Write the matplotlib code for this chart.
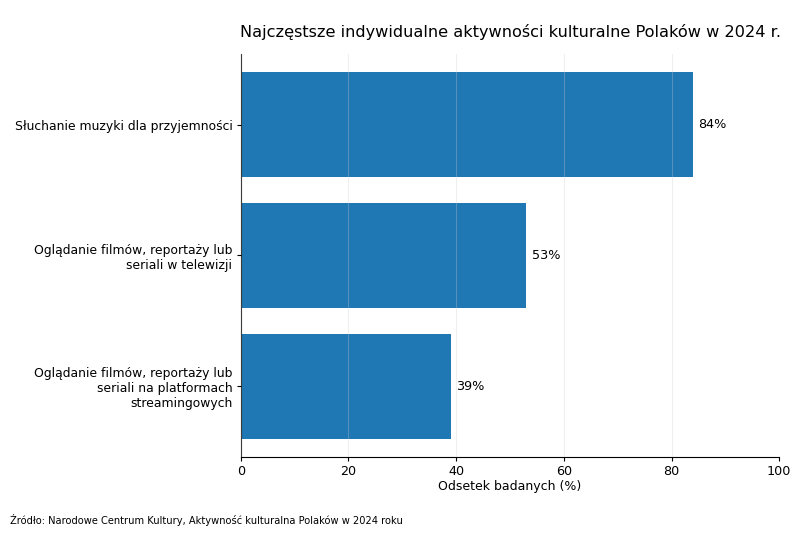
import matplotlib.pyplot as plt

categories = [
    "Słuchanie muzyki dla przyjemności",
    "Oglądanie filmów, reportaży lub\nseriali w telewizji",
    "Oglądanie filmów, reportaży lub\nseriali na platformach\nstreamingowych",
]
values = [84, 53, 39]
labels = ["84%", "53%", "39%"]

fig, ax = plt.subplots(figsize=(8, 5.5), dpi=100)
fig.subplots_adjust(left=0.301, right=0.974, top=0.902, bottom=0.169)

ax.barh(categories, values, color="#1f77b4", height=0.8)
ax.invert_yaxis()
ax.set_xlim(0, 100)
ax.grid(axis="x", color="#cccccc", alpha=0.3, linewidth=0.8)
ax.set_axisbelow(False)
for s in ["top", "right"]:
    ax.spines[s].set_visible(False)

for i, (v, t) in enumerate(zip(values, labels)):
    ax.text(v + 1, i, t, va="center", ha="left", fontsize=9.2)

ax.tick_params(axis="y", labelsize=8.9, length=3, pad=3)
ax.tick_params(axis="x", labelsize=9.2, length=3, pad=2.5)
ax.set_xlabel("Odsetek badanych (%)", fontsize=9.0, labelpad=2)
ax.set_title("Najczęstsze indywidualne aktywności kulturalne Polaków w 2024 r.", fontsize=11.6, pad=12)
fig.text(0.012, 0.047, "Źródło: Narodowe Centrum Kultury, Aktywność kulturalna Polaków w 2024 roku", fontsize=7.1)

fig.savefig("out.png")
